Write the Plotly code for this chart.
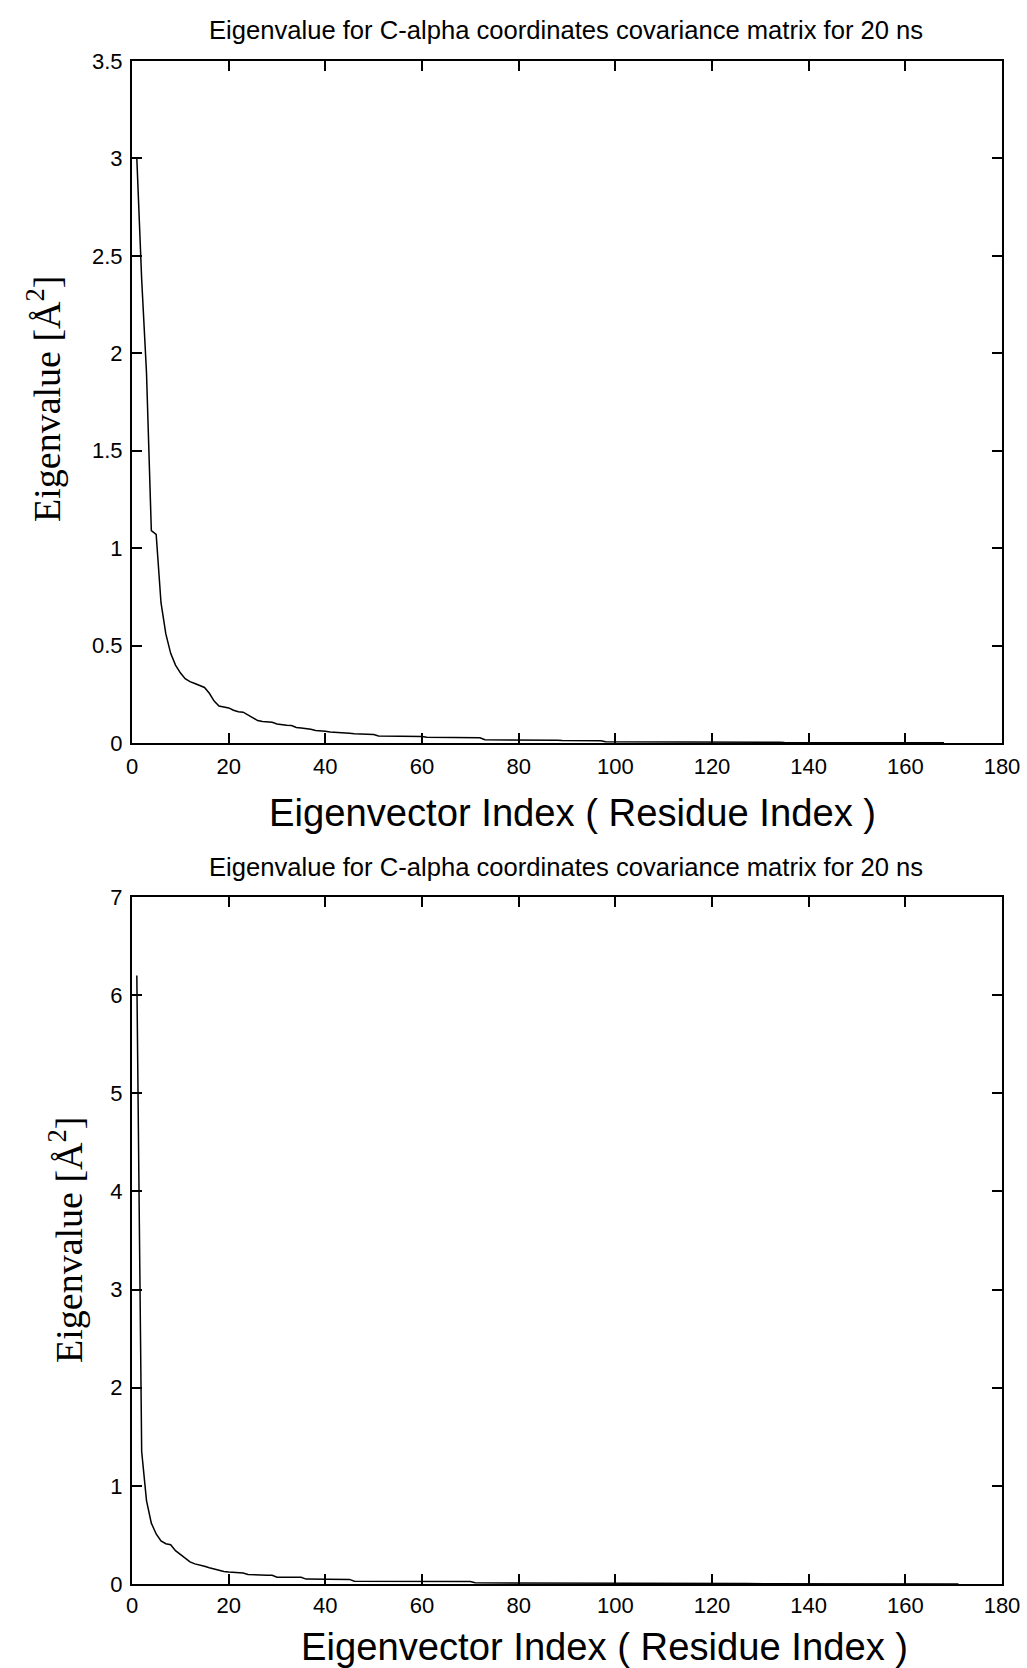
import plotly.graph_objects as go

# ---------------- data ----------------
top_values = [
    3.00, 2.38, 1.90, 1.09, 1.07, 0.72, 0.56, 0.46, 0.40, 0.36,
    0.33, 0.315, 0.305, 0.295, 0.285, 0.255, 0.215, 0.190, 0.183, 0.180,
    0.168, 0.160, 0.158, 0.145, 0.128, 0.115, 0.110, 0.108, 0.106, 0.098,
    0.093, 0.091, 0.090, 0.080, 0.077, 0.075, 0.070, 0.064, 0.063, 0.060,
    0.056, 0.055, 0.054, 0.052, 0.050, 0.047, 0.046, 0.045, 0.044, 0.043,
    0.036, 0.036, 0.035, 0.035, 0.035, 0.034, 0.034, 0.034, 0.033, 0.033,
    0.029, 0.029, 0.029, 0.028, 0.028, 0.028, 0.028, 0.027, 0.027, 0.027,
    0.027, 0.027, 0.017, 0.017, 0.016, 0.016, 0.016, 0.016, 0.015, 0.015,
    0.015, 0.015, 0.015, 0.014, 0.014, 0.014, 0.014, 0.014, 0.013, 0.013,
    0.013, 0.013, 0.013, 0.012, 0.012, 0.012, 0.012, 0.007, 0.007, 0.007,
    0.007, 0.007, 0.006, 0.006, 0.006, 0.006, 0.006, 0.006, 0.006, 0.006,
    0.006, 0.005, 0.005, 0.005, 0.005, 0.005, 0.005, 0.005, 0.005, 0.005,
    0.005, 0.005, 0.004, 0.004, 0.004, 0.004, 0.004, 0.004, 0.004, 0.004,
    0.004, 0.004, 0.004, 0.004, 0.003, 0.003, 0.003, 0.003, 0.003, 0.003,
    0.003, 0.003, 0.003, 0.003, 0.003, 0.003, 0.003, 0.002, 0.002, 0.002,
    0.002, 0.002, 0.002, 0.002, 0.002, 0.002, 0.002, 0.002, 0.002, 0.002,
    0.001, 0.001, 0.001, 0.001, 0.001, 0.001, 0.001, 0.001,
]
top_index = list(range(1, len(top_values) + 1))

bottom_values = [
    6.20, 1.35, 0.85, 0.62, 0.51, 0.44, 0.41, 0.40, 0.34, 0.30,
    0.26, 0.225, 0.205, 0.195, 0.180, 0.165, 0.150, 0.138, 0.128, 0.122,
    0.118, 0.115, 0.112, 0.098, 0.094, 0.092, 0.090, 0.089, 0.088, 0.070,
    0.070, 0.069, 0.069, 0.068, 0.068, 0.050, 0.049, 0.049, 0.048, 0.048,
    0.048, 0.048, 0.047, 0.047, 0.047, 0.028, 0.028, 0.028, 0.027, 0.027,
    0.027, 0.027, 0.027, 0.027, 0.027, 0.026, 0.026, 0.026, 0.026, 0.026,
    0.026, 0.026, 0.025, 0.025, 0.025, 0.025, 0.025, 0.025, 0.025, 0.025,
    0.012, 0.012, 0.011, 0.011, 0.011, 0.010, 0.010, 0.010, 0.010, 0.010,
    0.010, 0.009, 0.009, 0.009, 0.009, 0.009, 0.009, 0.009, 0.008, 0.008,
    0.008, 0.008, 0.008, 0.008, 0.008, 0.008, 0.007, 0.007, 0.007, 0.007,
    0.007, 0.007, 0.007, 0.007, 0.007, 0.006, 0.006, 0.006, 0.006, 0.006,
    0.006, 0.006, 0.006, 0.006, 0.006, 0.005, 0.005, 0.005, 0.005, 0.005,
    0.005, 0.005, 0.005, 0.005, 0.005, 0.005, 0.004, 0.004, 0.004, 0.004,
    0.004, 0.004, 0.004, 0.004, 0.004, 0.004, 0.004, 0.004, 0.003, 0.003,
    0.003, 0.003, 0.003, 0.003, 0.003, 0.003, 0.003, 0.003, 0.003, 0.003,
    0.003, 0.002, 0.002, 0.002, 0.002, 0.002, 0.002, 0.002, 0.002, 0.002,
    0.002, 0.002, 0.002, 0.002, 0.001, 0.001, 0.001, 0.001, 0.001, 0.001,
    0.001,
]
bottom_index = list(range(1, len(bottom_values) + 1))

x_ticks = [0, 20, 40, 60, 80, 100, 120, 140, 160, 180]
top_y_ticks = [0, 0.5, 1, 1.5, 2, 2.5, 3, 3.5]
top_y_labels = ["0", "0.5", "1", "1.5", "2", "2.5", "3", "3.5"]
bottom_y_ticks = [0, 1, 2, 3, 4, 5, 6, 7]

title_text = "Eigenvalue for C-alpha coordinates covariance matrix for 20 ns"
x_title_text = "Eigenvector Index ( Residue Index )"
y_title_text = "Eigenvalue [Å<sup>2</sup>]"

# ---------------- layout geometry (pixels) ----------------
W, H = 1027, 1668
left_px, right_px = 132, 1002
top1_px, bot1_px = 61, 743
top2_px, bot2_px = 897, 1584


def py(p):
    return 1 - p / H


def px(p):
    return p / W


fig = go.Figure()
fig.add_trace(go.Scatter(x=top_index, y=top_values, mode="lines",
                         line=dict(color="black", width=1.5),
                         xaxis="x", yaxis="y", showlegend=False))
fig.add_trace(go.Scatter(x=bottom_index, y=bottom_values, mode="lines",
                         line=dict(color="black", width=1.5),
                         xaxis="x2", yaxis="y2", showlegend=False))

tick_font = dict(family="Liberation Sans, Arial", size=22, color="black")
axis_common = dict(showline=True, linecolor="black", linewidth=2, mirror="ticks",
                   ticks="inside", ticklen=10, tickwidth=1.5, tickcolor="black",
                   showgrid=False, zeroline=False, tickfont=tick_font,
                   automargin=False)

fig.update_layout(
    width=W, height=H, autosize=False,
    margin=dict(l=0, r=0, t=0, b=0, pad=0),
    paper_bgcolor="white", plot_bgcolor="white",
    xaxis=dict(domain=[px(left_px), px(right_px)], range=[0, 180],
               tickvals=x_ticks, anchor="y", ticklabelstandoff=3, **axis_common),
    yaxis=dict(domain=[py(bot1_px), py(top1_px)], range=[0, 3.5],
               tickvals=top_y_ticks, ticktext=top_y_labels, anchor="x",
               ticklabelstandoff=3, **axis_common),
    xaxis2=dict(domain=[px(left_px), px(right_px)], range=[0, 180],
                tickvals=x_ticks, anchor="y2", ticklabelstandoff=1, **axis_common),
    yaxis2=dict(domain=[py(bot2_px), py(top2_px)], range=[0, 7],
                tickvals=bottom_y_ticks, anchor="x2", ticklabelstandoff=3, **axis_common),
)

title_font = dict(family="Liberation Sans, Arial", size=25.6, color="black")
xt_font = dict(family="Liberation Sans, Arial", size=38.2, color="black")
yt_font = dict(family="Liberation Serif, Times New Roman", size=38, color="black")

annotations = [
    dict(text=title_text, x=px(566), y=py(30), font=title_font),
    dict(text=title_text, x=px(566), y=py(867), font=title_font),
    dict(text=x_title_text, x=px(572), y=py(812), font=xt_font),
    dict(text=x_title_text, x=px(604), y=py(1646), font=xt_font),
    dict(text=y_title_text, x=px(44), y=py(399), font=yt_font, textangle=-90),
    dict(text=y_title_text, x=px(66), y=py(1240), font=yt_font, textangle=-90),
]
for a in annotations:
    a.update(xref="paper", yref="paper", showarrow=False,
             xanchor="center", yanchor="middle")
fig.update_layout(annotations=annotations)

fig.write_html("out.html")
